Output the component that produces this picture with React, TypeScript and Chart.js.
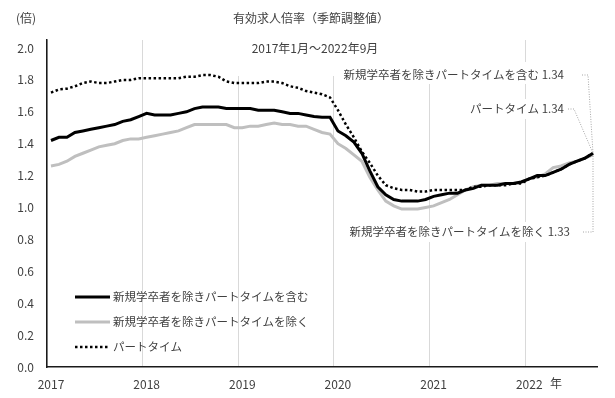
import React, { useEffect, useRef } from 'react';
import { Chart, registerables } from 'chart.js';

Chart.register(...registerables);

// ---- data ----
const startYear = 2017;
const monthCount = 69; // 2017/1 .. 2022/9
const categories: string[] = [];
for (let i = 0; i < monthCount; i++) {
  categories.push(`${startYear + Math.floor(i / 12)}/${(i % 12) + 1}`);
}

const seriesNames = [
  '新規学卒者を除きパートタイムを含む',
  '新規学卒者を除きパートタイムを除く',
  'パートタイム',
];

// 新規学卒者を除きパートタイムを含む
const seriesIncl = [
  1.42, 1.44, 1.44, 1.47, 1.48, 1.49, 1.50, 1.51, 1.52, 1.54, 1.55, 1.57,
  1.59, 1.58, 1.58, 1.58, 1.59, 1.60, 1.62, 1.63, 1.63, 1.63, 1.62, 1.62,
  1.62, 1.62, 1.61, 1.61, 1.61, 1.60, 1.59, 1.59, 1.58, 1.57, 1.565, 1.565,
  1.48, 1.45, 1.41, 1.34, 1.23, 1.13, 1.08, 1.05, 1.04, 1.04, 1.04, 1.05,
  1.07, 1.08, 1.09, 1.09, 1.11, 1.12, 1.14, 1.14, 1.14, 1.15, 1.15, 1.16,
  1.18, 1.20, 1.20, 1.22, 1.24, 1.27, 1.29, 1.31, 1.34,
];

// 新規学卒者を除きパートタイムを除く
const seriesExcl = [
  1.26, 1.27, 1.29, 1.32, 1.34, 1.36, 1.38, 1.39, 1.40, 1.42, 1.43, 1.43,
  1.44, 1.45, 1.46, 1.47, 1.48, 1.50, 1.52, 1.52, 1.52, 1.52, 1.52, 1.50,
  1.50, 1.51, 1.51, 1.52, 1.53, 1.52, 1.52, 1.51, 1.51, 1.49, 1.47, 1.46,
  1.40, 1.37, 1.33, 1.29, 1.19, 1.11, 1.04, 1.01, 0.99, 0.99, 0.99, 1.00,
  1.01, 1.03, 1.05, 1.08, 1.11, 1.13, 1.14, 1.14, 1.15, 1.15, 1.15, 1.16,
  1.18, 1.19, 1.21, 1.25, 1.26, 1.28, 1.29, 1.31, 1.33,
];

// パートタイム
const seriesPart = [
  1.72, 1.74, 1.745, 1.76, 1.78, 1.79, 1.78, 1.78, 1.79, 1.80, 1.80, 1.81,
  1.81, 1.81, 1.81, 1.81, 1.81, 1.82, 1.82, 1.83, 1.83, 1.82, 1.79, 1.78,
  1.78, 1.78, 1.78, 1.79, 1.79, 1.78, 1.76, 1.75, 1.73, 1.72, 1.71, 1.69,
  1.61, 1.52, 1.44, 1.35, 1.28, 1.20, 1.14, 1.12, 1.11, 1.11, 1.10, 1.10,
  1.11, 1.11, 1.11, 1.11, 1.11, 1.13, 1.13, 1.14, 1.14, 1.14, 1.15, 1.15,
  1.18, 1.19, 1.20, 1.22, 1.24, 1.27, 1.29, 1.31, 1.34,
];

const yTicks = [0, 0.2, 0.4, 0.6, 0.8, 1.0, 1.2, 1.4, 1.6, 1.8, 2.0];
const titleText = '有効求人倍率（季節調整値）';
const subtitleText = '2017年1月～2022年9月';
const unitText = '(倍)';
const yearSuffix = '年';

const FONT_FAMILY = '"Noto Sans CJK JP", "Noto Sans", sans-serif';
const TEXT = '#404040';
const font = (s: number) => `${s}px ${FONT_FAMILY}`;

const overlay = {
  id: 'overlay',
  beforeDatasetsDraw(chart: any) {
    const ctx = chart.ctx;
    ctx.save();
    ctx.fillStyle = '#ffffff';
    // title text box
    ctx.fillRect(232, 38, 208, 38);
    // label boxes
    ctx.fillRect(336, 62, 232, 22);
    ctx.fillRect(463, 99, 105, 20);
    ctx.fillRect(343, 222, 231, 20);
    ctx.restore();
  },
  afterDatasetsDraw(chart: any) {
    const ctx = chart.ctx;
    const xs = chart.scales.x;
    const ys = chart.scales.y;
    ctx.save();
    ctx.fillStyle = TEXT;
    ctx.textBaseline = 'middle';
    ctx.font = font(12);
    ctx.textAlign = 'center';
    ctx.fillText(titleText, 311, 18);
    ctx.fillText(subtitleText, 315, 48);
    ctx.textAlign = 'left';
    ctx.fillText(unitText, 16, 18);
    ctx.fillText(yearSuffix, 550, 383);

    // legend
    const ds = chart.data.datasets;
    const rows = [297, 322, 347];
    ctx.font = font(11.5);
    ds.forEach((d: any, i: number) => {
      const y = rows[i];
      ctx.save();
      ctx.strokeStyle = d.borderColor;
      ctx.lineWidth = d.borderWidth;
      ctx.setLineDash(d.borderDash || []);
      ctx.beginPath();
      ctx.moveTo(75, y);
      ctx.lineTo(110, y);
      ctx.stroke();
      ctx.restore();
      ctx.fillStyle = TEXT;
      ctx.textAlign = 'left';
      ctx.fillText(d.label, 113, y);
    });

    // end labels with leader lines
    const last = categories.length - 1;
    const px = xs.getPixelForValue(last);
    const pyIncl = ys.getPixelForValue(seriesIncl[last]);
    const pyPart = ys.getPixelForValue(seriesPart[last]);
    const pyExcl = ys.getPixelForValue(seriesExcl[last]);
    ctx.save();
    ctx.strokeStyle = '#a6a6a6';
    ctx.lineWidth = 1;
    ctx.setLineDash([1, 1.5]);
    const leader = (pts: number[][]) => {
      ctx.beginPath();
      ctx.moveTo(pts[0][0], pts[0][1]);
      for (let k = 1; k < pts.length; k++) ctx.lineTo(pts[k][0], pts[k][1]);
      ctx.stroke();
    };
    leader([[582, 75], [588, 75], [px, pyIncl]]);
    leader([[568, 109], [574, 109], [px, pyPart]]);
    leader([[583, 232], [px, 232], [px, pyExcl]]);
    ctx.restore();

    ctx.fillStyle = TEXT;
    ctx.font = font(11.5);
    ctx.textAlign = 'right';
    ctx.fillText(`${seriesNames[0]} ${seriesIncl[last].toFixed(2)}`, 564, 75);
    ctx.fillText(`${seriesNames[2]} ${seriesPart[last].toFixed(2)}`, 564, 109);
    ctx.fillText(`${seriesNames[1]} ${seriesExcl[last].toFixed(2)}`, 570, 232);
    ctx.restore();
  },
};

export default function App() {
  const ref = useRef<HTMLCanvasElement | null>(null);
  useEffect(() => {
    document.body.style.margin = '0';
    const canvas = ref.current;
    if (!canvas) return;
    const chart = new Chart(canvas, {
      type: 'line',
      data: {
        labels: categories,
        datasets: [
          {
            label: seriesNames[0],
            data: seriesIncl,
            borderColor: '#000000',
            borderWidth: 3,
            pointRadius: 0,
            tension: 0,
            fill: false,
            order: 1,
          },
          {
            label: seriesNames[1],
            data: seriesExcl,
            borderColor: '#bfbfbf',
            borderWidth: 3,
            pointRadius: 0,
            tension: 0,
            fill: false,
            order: 2,
          },
          {
            label: seriesNames[2],
            data: seriesPart,
            borderColor: '#000000',
            borderWidth: 2.5,
            borderDash: [2.5, 2.5],
            pointRadius: 0,
            tension: 0,
            fill: false,
            order: 0,
          },
        ],
      },
      options: {
        responsive: false,
        animation: false,
        events: [],
        layout: { padding: { top: 40, right: 18, left: 0, bottom: 0 } },
        plugins: {
          legend: { display: false },
          title: { display: false },
          tooltip: { enabled: false },
        },
        scales: {
          x: {
            type: 'category',
            offset: true,
            grid: {
              offset: true,
              drawTicks: false,
              lineWidth: 1,
              color: (c: any) => {
                const lab = categories[c.index];
                return lab && lab.endsWith('/1') ? '#d9d9d9' : 'rgba(0,0,0,0)';
              },
            },
            border: { display: true, color: '#1a1a1a', width: 1.5 },
            ticks: {
              autoSkip: false,
              maxRotation: 0,
              minRotation: 0,
              padding: 10,
              color: TEXT,
              font: { family: FONT_FAMILY, size: 12 },
              callback: (_v: any, i: number) => {
                const lab = categories[i];
                return lab && lab.endsWith('/1') ? lab.split('/')[0] : '';
              },
            },
            afterFit: (s: any) => {
              s.height = 31;
            },
          },
          y: {
            min: 0,
            max: 2.05,
            grid: { display: false, drawTicks: false },
            border: { display: true, color: '#1a1a1a', width: 1.5 },
            ticks: {
              padding: 13,
              color: TEXT,
              font: { family: FONT_FAMILY, size: 12 },
              callback: (v: any) => Number(v).toFixed(1),
            },
            afterBuildTicks: (s: any) => {
              s.ticks = yTicks.map((v) => ({ value: v }));
            },
            afterFit: (s: any) => {
              s.width = 47;
            },
          },
        },
      },
      plugins: [overlay],
    });
    return () => chart.destroy();
  }, []);
  return (
    <canvas
      ref={ref}
      width={615}
      height={398}
      style={{ display: 'block', width: 615, height: 398 }}
    />
  );
}
